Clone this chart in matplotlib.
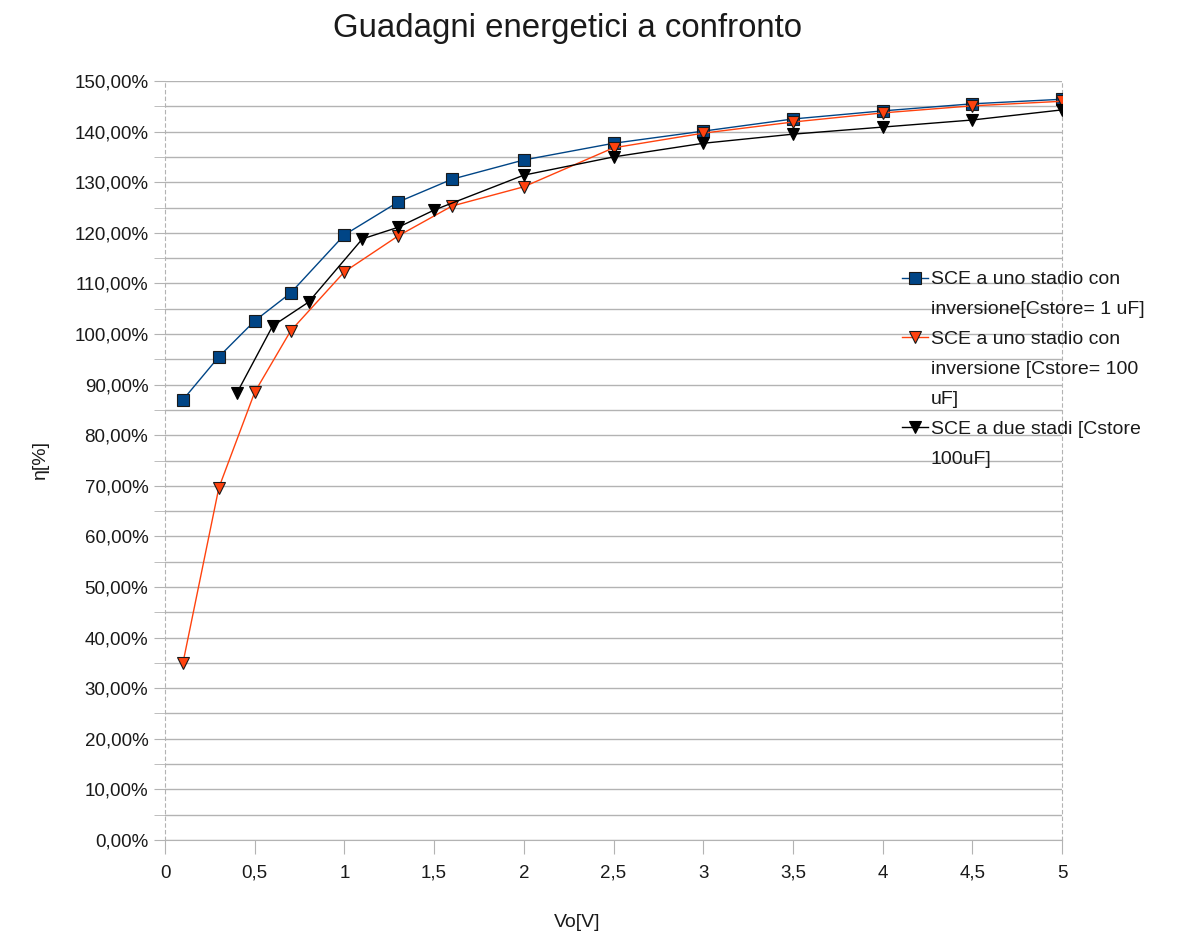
import numpy as np
import matplotlib
matplotlib.use("Agg")
import matplotlib.pyplot as plt
from matplotlib.lines import Line2D
from matplotlib.ticker import MultipleLocator, FuncFormatter

plt.rcParams['font.family'] = ['Liberation Sans', 'DejaVu Sans']

# data
x_1uF = [0.1, 0.3, 0.5, 0.7, 1, 1.3, 1.6, 2, 2.5, 3, 3.5, 4, 4.5, 5]
eta_1uF = [87.0, 95.5, 102.6, 108.1, 119.6, 126.1, 130.6, 134.4, 137.7,
           140.1, 142.5, 144.1, 145.5, 146.4]

x_100uF = [0.1, 0.3, 0.5, 0.7, 1, 1.3, 1.6, 2, 2.5, 3, 3.5, 4, 4.5, 5]
eta_100uF = [35.0, 69.6, 88.5, 100.6, 112.3, 119.4, 125.3, 129.1, 136.8,
             139.7, 141.9, 143.7, 145.1, 146.0]

x_two = [0.4, 0.6, 0.8, 1.1, 1.3, 1.5, 2, 2.5, 3, 3.5, 4, 4.5, 5]
eta_two = [88.3, 101.6, 106.3, 118.8, 121.1, 124.5, 131.4, 135.0, 137.7,
           139.5, 140.9, 142.3, 144.3]

labels = ["SCE a uno stadio con\ninversione[Cstore= 1 uF]",
          "SCE a uno stadio con\ninversione [Cstore= 100\nuF]",
          "SCE a due stadi [Cstore\n100uF]"]

fig = plt.figure(figsize=(11.77, 9.38), dpi=100)
ax = fig.add_axes([0.1402, 0.1045, 0.7621, 0.8091])

l1, = ax.plot(x_1uF, eta_1uF, color='#004586', lw=1, marker='s', ms=8,
              mfc='#004586', mec='#1a1a1a', mew=0.8, zorder=3)
l2, = ax.plot(x_100uF, eta_100uF, color='#ff420e', lw=1, marker='v', ms=8,
              mfc='#ff420e', mec='#1a1a1a', mew=0.8, zorder=3)
l3, = ax.plot(x_two, eta_two, color='#000000', lw=1, marker='v', ms=8,
              mfc='#000000', mec='#000000', mew=0.8, zorder=3)

ax.set_xlim(0, 5)
ax.set_ylim(0, 150)
ax.xaxis.set_major_locator(MultipleLocator(0.5))
ax.yaxis.set_major_locator(MultipleLocator(10))
ax.yaxis.set_minor_locator(MultipleLocator(5))

ax.xaxis.set_major_formatter(FuncFormatter(lambda v, p: ('%g' % v).replace('.', ',')))
ax.yaxis.set_major_formatter(FuncFormatter(lambda v, p: ('%.2f%%' % v).replace('.', ',')))

ax.grid(True, axis='y', which='both', color='#b3b3b3', lw=1, zorder=0)
ax.set_axisbelow(True)

ax.spines['top'].set_visible(False)
ax.spines['bottom'].set_color('#b3b3b3')
ax.spines['left'].set_color('#b3b3b3')
ax.spines['left'].set_linestyle((0, (3, 3)))
ax.spines['right'].set_color('#b3b3b3')
ax.spines['right'].set_linestyle((0, (3, 3)))

ax.tick_params(axis='both', which='both', color='#b3b3b3', labelsize=13.5,
               labelcolor='#1a1a1a')
ax.tick_params(axis='y', which='both', length=8, pad=4)
ax.tick_params(axis='x', length=10, pad=8)

fig.text(0.482, 0.970, "Guadagni energetici a confronto", fontsize=23.8,
         ha='center', va='center', color='#1a1a1a')
fig.text(0.490, 0.017, "Vo[V]", fontsize=14, ha='center', va='center',
         color='#1a1a1a')
fig.text(0.034, 0.510, "η[%]", fontsize=14, ha='center', va='center',
         rotation=90, color='#1a1a1a')

# one legend row per text line, handle only on the first line of each entry
handles, texts = [], []
for line, lab in zip([l1, l2, l3], labels):
    for i, part in enumerate(lab.split("\n")):
        handles.append(line if i == 0 else Line2D([], [], linestyle='none'))
        texts.append(part)

leg = ax.legend(handles, texts, loc='upper left', bbox_to_anchor=(0.822, 0.750),
                frameon=False, fontsize=14, handlelength=1.3, handletextpad=0.15,
                labelspacing=0.63, borderaxespad=0, borderpad=0,
                numpoints=1, markerscale=1.0)
for t in leg.get_texts():
    t.set_color('#1a1a1a')

fig.savefig("out.png", dpi=100)
